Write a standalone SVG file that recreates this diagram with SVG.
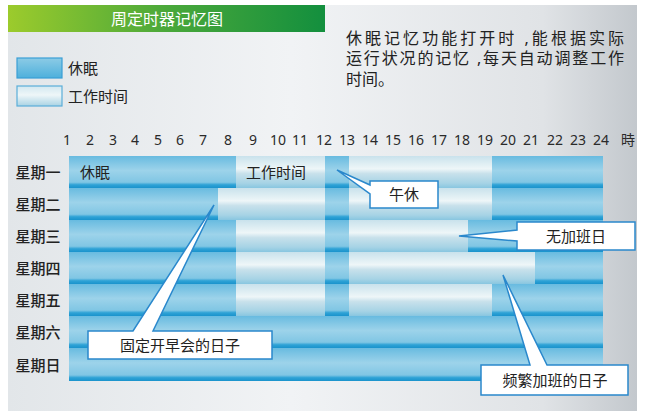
<svg xmlns="http://www.w3.org/2000/svg" width="648" height="414" viewBox="0 0 648 414">
<defs>
<linearGradient id="bg" x1="0" y1="0" x2="1" y2="0">
<stop offset="0" stop-color="#e2e6e9"/>
<stop offset="0.45" stop-color="#f1f3f5"/>
<stop offset="0.85" stop-color="#e0e3e6"/>
<stop offset="1" stop-color="#c3c8cd"/>
</linearGradient>
<linearGradient id="title" x1="0" y1="0" x2="1" y2="0">
<stop offset="0" stop-color="#9ccb2c"/>
<stop offset="0.5" stop-color="#4aa83a"/>
<stop offset="1" stop-color="#138f3e"/>
</linearGradient>
<linearGradient id="sleep" x1="0" y1="0" x2="0" y2="1">
<stop offset="0" stop-color="#68bbe0"/>
<stop offset="0.45" stop-color="#9dd3ea"/>
<stop offset="0.82" stop-color="#80c6e4"/>
<stop offset="0.9" stop-color="#2ea2d6"/>
<stop offset="1" stop-color="#1a93cc"/>
</linearGradient>
<linearGradient id="work" x1="0" y1="0" x2="0" y2="1">
<stop offset="0" stop-color="#c9e2ec"/>
<stop offset="0.4" stop-color="#eef6f8"/>
<stop offset="0.55" stop-color="#c8e1eb"/>
<stop offset="0.85" stop-color="#a6d3e5"/>
<stop offset="1" stop-color="#88c6e0"/>
</linearGradient>
<linearGradient id="lsleep" x1="0" y1="0" x2="0" y2="1">
<stop offset="0" stop-color="#8ccbe6"/>
<stop offset="1" stop-color="#4eb0dc"/>
</linearGradient>
<linearGradient id="lwork" x1="0" y1="0" x2="0" y2="1">
<stop offset="0" stop-color="#d2e8f0"/>
<stop offset="0.45" stop-color="#eef6f8"/>
<stop offset="1" stop-color="#a9d3e4"/>
</linearGradient>
</defs>
<style>
.t{font-family:"Noto Sans","Noto Sans CJK SC",sans-serif;fill:#222}
.day{font-size:15px;text-anchor:middle;font-weight:500}
.hr{font-size:14px;text-anchor:middle;fill:#2a2a2a}
.desc{font-size:16px}
.s{fill:url(#sleep)}
.w{fill:url(#work)}
.co{fill:#fff;stroke:#2a88cc;stroke-width:1.5;stroke-linejoin:miter}
.cot{font-size:15px;text-anchor:middle}
</style>
<rect x="0" y="0" width="648" height="414" fill="#fff"/>
<rect x="8" y="5" width="629" height="406" fill="url(#bg)"/>

<g id="title-bar">
<rect x="8" y="5" width="317" height="27" fill="url(#title)"/>
<text class="t" x="167" y="24.5" font-size="16" text-anchor="middle" style="fill:#fff">周定时器记忆图</text>
</g>

<g id="legend">
<rect x="17" y="58" width="45" height="20" fill="url(#lsleep)" stroke="#3a9fd6" stroke-width="1.2"/>
<text class="t" x="68" y="73.5" font-size="15">休眠</text>
<rect x="17" y="86" width="45" height="20" fill="url(#lwork)" stroke="#5aaed9" stroke-width="1.2"/>
<text class="t" x="68" y="101.5" font-size="15">工作时间</text>
</g>

<g id="description">
<text class="t desc" x="346" y="44" textLength="278" lengthAdjust="spacing">休眠记忆功能打开时 ,能根据实际</text>
<text class="t desc" x="346" y="64" textLength="278" lengthAdjust="spacing">运行状况的记忆 ,每天自动调整工作</text>
<text class="t desc" x="346" y="85">时间。</text>
</g>

<g id="hours">
<text class="t hr" x="67" y="145">1</text>
<text class="t hr" x="90" y="145">2</text>
<text class="t hr" x="113" y="145">3</text>
<text class="t hr" x="135" y="145">4</text>
<text class="t hr" x="158" y="145">5</text>
<text class="t hr" x="180" y="145">6</text>
<text class="t hr" x="203" y="145">7</text>
<text class="t hr" x="228" y="145">8</text>
<text class="t hr" x="253" y="145">9</text>
<text class="t hr" x="278" y="145">10</text>
<text class="t hr" x="300" y="145">11</text>
<text class="t hr" x="324" y="145">12</text>
<text class="t hr" x="347" y="145">13</text>
<text class="t hr" x="370" y="145">14</text>
<text class="t hr" x="393" y="145">15</text>
<text class="t hr" x="416" y="145">16</text>
<text class="t hr" x="439" y="145">17</text>
<text class="t hr" x="462" y="145">18</text>
<text class="t hr" x="485" y="145">19</text>
<text class="t hr" x="508" y="145">20</text>
<text class="t hr" x="531" y="145">21</text>
<text class="t hr" x="555" y="145">22</text>
<text class="t hr" x="578" y="145">23</text>
<text class="t hr" x="601" y="145">24</text>
<text class="t hr" x="628" y="145">時</text>
</g>

<g id="days">
<text class="t day" x="38" y="177.5">星期一</text>
<text class="t day" x="38" y="209.5">星期二</text>
<text class="t day" x="38" y="241.5">星期三</text>
<text class="t day" x="38" y="273.5">星期四</text>
<text class="t day" x="38" y="305.5">星期五</text>
<text class="t day" x="38" y="337.5">星期六</text>
<text class="t day" x="38" y="370.5">星期日</text>
</g>

<g id="chart">
<rect class="s" x="69" y="156" width="534" height="32"/>
<rect class="s" x="69" y="188" width="534" height="32"/>
<rect class="s" x="69" y="220" width="534" height="32"/>
<rect class="s" x="69" y="252" width="534" height="32"/>
<rect class="s" x="69" y="284" width="534" height="32"/>
<rect class="s" x="69" y="316" width="534" height="32"/>
<rect class="s" x="69" y="348" width="534" height="33"/>
<rect class="w" x="236" y="156" width="89" height="32"/>
<rect class="w" x="349" y="156" width="143" height="32"/>
<rect class="w" x="218" y="188" width="107" height="32"/>
<rect class="w" x="349" y="188" width="143" height="32"/>
<rect class="w" x="236" y="220" width="89" height="32"/>
<rect class="w" x="349" y="220" width="119" height="32"/>
<rect class="w" x="236" y="252" width="89" height="32"/>
<rect class="w" x="349" y="252" width="186" height="32"/>
<rect class="w" x="236" y="284" width="89" height="32"/>
<rect class="w" x="349" y="284" width="143" height="32"/>
<text class="t" x="80" y="177.5" font-size="15">休眠</text>
<text class="t" x="246" y="177.5" font-size="15">工作时间</text>
</g>

<g id="callouts">
<g id="c-noon">
<path class="co" d="M370,181 H438 V208 H370 V194 L337,170 L370,185 Z"/>
<text class="t cot" x="404" y="200">午休</text>
</g>
<g id="c-noovertime">
<path class="co" d="M517,222 H635 V250 H517 V241 L459,236 L517,230 Z"/>
<text class="t cot" x="576" y="241.5">无加班日</text>
</g>
<g id="c-meeting">
<path class="co" d="M88,331 H133 L214,205 L153,331 H272 V359 H88 Z"/>
<text class="t cot" x="180" y="350.5">固定开早会的日子</text>
</g>
<g id="c-overtime">
<path class="co" d="M481,365 H530 L503,275 L547,365 H628 V395 H481 Z"/>
<text class="t cot" x="555" y="385.5">频繁加班的日子</text>
</g>
</g>
</svg>
